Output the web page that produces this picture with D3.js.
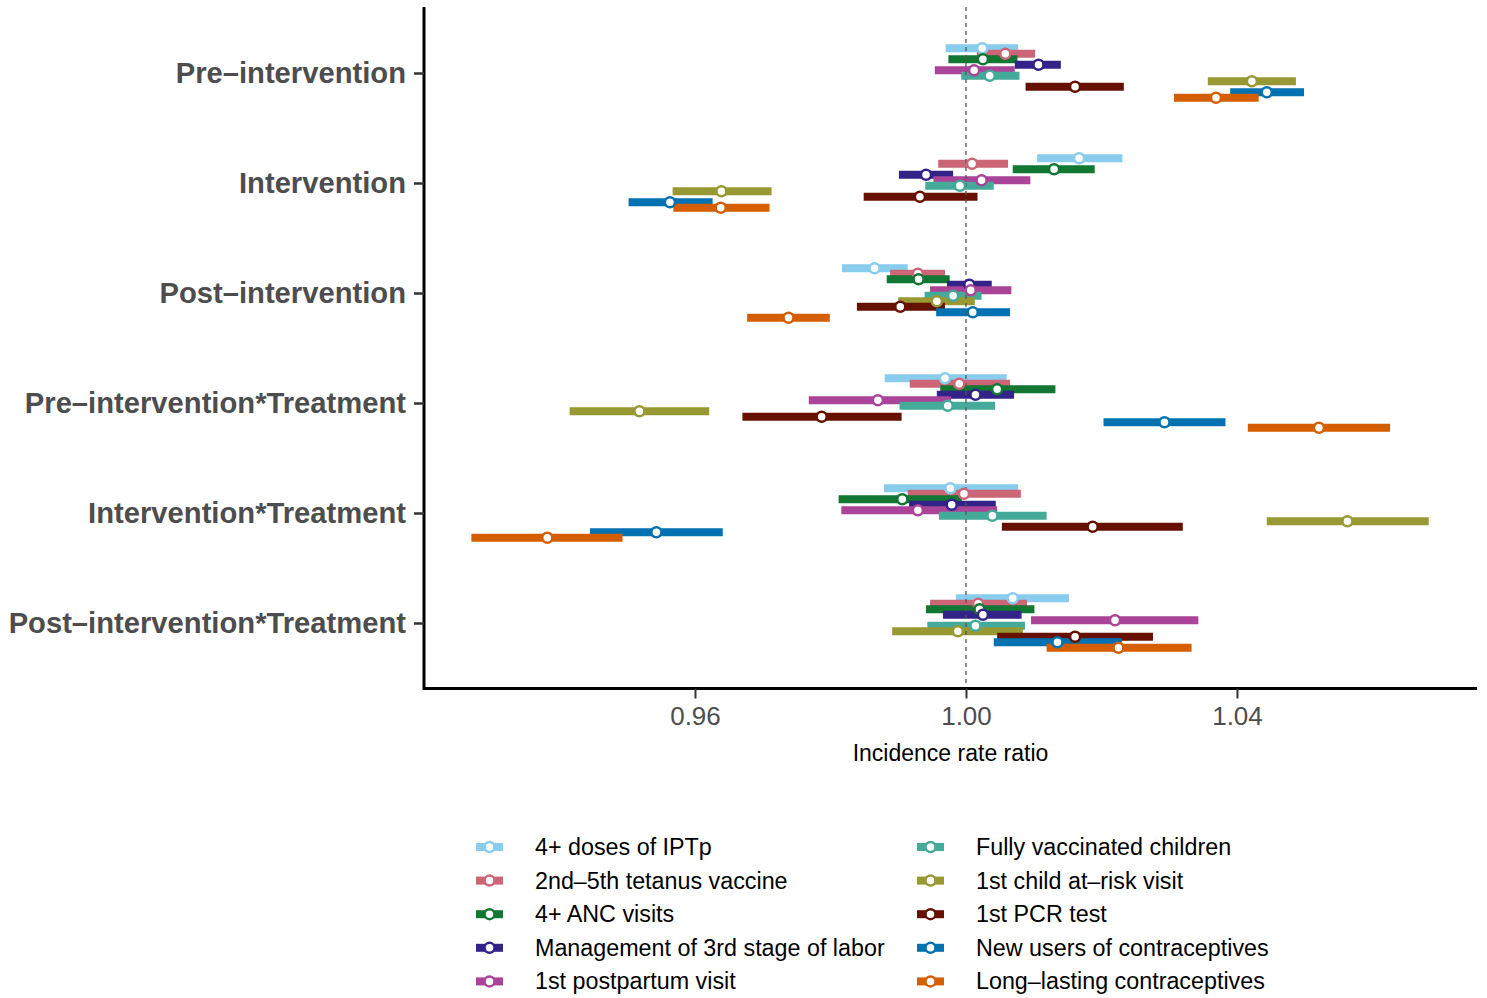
<!DOCTYPE html>
<html>
<head>
<meta charset="utf-8">
<script src="https://cdn.jsdelivr.net/npm/d3@7"></script>
<style>
  body { margin: 0; background: #fff; }
  svg text { font-family: "Liberation Sans", Arial, Helvetica, sans-serif; }
</style>
</head>
<body>
<svg id="chart" width="1487" height="998"></svg>
<script>
// periods on the y axis, top to bottom
var groups = ['Pre–intervention', 'Intervention', 'Post–intervention',
  'Pre–intervention*Treatment', 'Intervention*Treatment', 'Post–intervention*Treatment'];

var series = ['4+ doses of IPTp', '2nd–5th tetanus vaccine', '4+ ANC visits',
  'Management of 3rd stage of labor', '1st postpartum visit', 'Fully vaccinated children',
  '1st child at–risk visit', '1st PCR test', 'New users of contraceptives', 'Long–lasting contraceptives'];

var colors = ['#88CCEE', '#CC6677', '#117733', '#332288', '#AA4499',
  '#44AA99', '#999933', '#661100', '#0072B2', '#D55E00'];

// one row per series, one column per period
var ratio = [
  [1.0024, 1.0167, 0.9865, 0.9969, 0.9977, 1.0069],
  [1.0058, 1.0009, 0.9929, 0.9990, 0.9997, 1.0018],
  [1.0025, 1.0130, 0.9930, 1.0046, 0.9906, 1.0020],
  [1.0107, 0.9941, 1.0005, 1.0014, 0.9979, 1.0025],
  [1.0012, 1.0023, 1.0007, 0.9870, 0.9929, 1.0220],
  [1.0035, 0.9991, 0.9981, 0.9973, 1.0039, 1.0014],
  [1.0422, 0.9639, 0.9957, 0.9518, 1.0563, 0.9988],
  [1.0161, 0.9932, 0.9903, 0.9787, 1.0187, 1.0161],
  [1.0444, 0.9563, 1.0010, 1.0293, 0.9543, 1.0135],
  [1.0369, 0.9638, 0.9738, 1.0521, 0.9382, 1.0225]
];
var lower = [
  [0.9970, 1.0105, 0.9817, 0.9880, 0.9879, 0.9985],
  [1.0016, 0.9959, 0.9888, 0.9917, 0.9914, 0.9947],
  [0.9974, 1.0069, 0.9883, 0.9962, 0.9812, 0.9941],
  [1.0072, 0.9901, 0.9972, 0.9957, 0.9916, 0.9966],
  [0.9954, 0.9952, 0.9947, 0.9768, 0.9816, 1.0096],
  [0.9993, 0.9940, 0.9939, 0.9902, 0.9960, 0.9943],
  [1.0357, 0.9567, 0.9900, 0.9415, 1.0444, 0.9891],
  [1.0088, 0.9849, 0.9839, 0.9670, 1.0053, 1.0046],
  [1.0390, 0.9502, 0.9956, 1.0203, 0.9445, 1.0041],
  [1.0307, 0.9568, 0.9677, 1.0416, 0.9270, 1.0119]
];
var upper = [
  [1.0077, 1.0231, 0.9914, 1.0060, 1.0077, 1.0152],
  [1.0102, 1.0062, 0.9969, 1.0065, 1.0081, 1.0090],
  [1.0076, 1.0190, 0.9976, 1.0132, 0.9994, 1.0101],
  [1.0140, 0.9981, 1.0038, 1.0071, 1.0044, 1.0082],
  [1.0072, 1.0095, 1.0067, 0.9978, 1.0046, 1.0343],
  [1.0079, 1.0041, 1.0023, 1.0043, 1.0119, 1.0087],
  [1.0487, 0.9713, 1.0013, 0.9621, 1.0683, 1.0084],
  [1.0233, 1.0017, 0.9969, 0.9905, 1.0320, 1.0276],
  [1.0499, 0.9626, 1.0065, 1.0383, 0.9641, 1.0230],
  [1.0432, 0.9710, 0.9799, 1.0626, 0.9493, 1.0333]
];

var xTicks = [0.96, 1.00, 1.04];

var margin = { top: 7, right: 11, bottom: 309, left: 425 };
var width = 1487, height = 998;
var svg = d3.select('#chart');

var x = d3.scaleLinear()
  .domain([0.92015, 1.07528])
  .range([margin.left, width - margin.right]);

var y = d3.scalePoint()
  .domain(groups)
  .range([margin.top, height - margin.bottom])
  .padding(0.6);

var dodge = y.step() * 0.5 / series.length;
var barH = 8;
var ptR = 5, ptW = 2.5;

var rows = [];
series.forEach(function (s, i) {
  groups.forEach(function (g, j) {
    rows.push({ s: i, g: g, est: ratio[i][j], lo: lower[i][j], hi: upper[i][j] });
  });
});
function yPos(d) { return y(d.g) + (d.s - (series.length - 1) / 2) * dodge; }

// interval bars
svg.append('g').selectAll('rect')
  .data(rows)
  .enter()
  .append('rect')
  .attr('x', function (d) { return x(d.lo); })
  .attr('y', function (d) { return yPos(d) - barH / 2; })
  .attr('width', function (d) { return x(d.hi) - x(d.lo); })
  .attr('height', barH)
  .attr('fill', function (d) { return colors[d.s]; });

// reference line
svg.append('line')
  .attr('x1', x(1)).attr('x2', x(1))
  .attr('y1', margin.top).attr('y2', height - margin.bottom)
  .attr('stroke', '#555')
  .attr('stroke-width', 1.3)
  .attr('stroke-dasharray', '4,4');

// point estimates
svg.append('g').selectAll('circle')
  .data(rows)
  .enter()
  .append('circle')
  .attr('cx', function (d) { return x(d.est); })
  .attr('cy', yPos)
  .attr('r', ptR)
  .attr('fill', '#fff')
  .attr('stroke', function (d) { return colors[d.s]; })
  .attr('stroke-width', ptW);

// axes
var xAxis = svg.append('g')
  .attr('transform', 'translate(0,' + (height - margin.bottom - 0.5) + ')')
  .call(d3.axisBottom(x).tickValues(xTicks).tickFormat(d3.format('.2f')).tickSize(10).tickPadding(8));
xAxis.select('.domain').attr('stroke', '#000').attr('stroke-width', 3)
  .attr('d', 'M' + (margin.left - 2) + ',0H' + (width - margin.right + 1));
xAxis.selectAll('.tick line').attr('stroke', '#333').attr('stroke-width', 2);
xAxis.selectAll('.tick text').attr('fill', '#4D4D4D').style('font-size', '26px');

var yAxis = svg.append('g')
  .attr('transform', 'translate(' + (margin.left - 1) + ',0)')
  .call(d3.axisLeft(y).tickSize(10).tickPadding(8));
yAxis.select('.domain').attr('stroke', '#000').attr('stroke-width', 3)
  .attr('d', 'M0,' + margin.top + 'V' + (height - margin.bottom + 1));
yAxis.selectAll('.tick line').attr('stroke', '#333').attr('stroke-width', 2.5);
yAxis.selectAll('.tick text').attr('fill', '#4D4D4D')
  .style('font-size', '29.2px').style('font-weight', 'bold');

svg.append('text')
  .attr('x', (margin.left + width - margin.right) / 2)
  .attr('y', 761)
  .attr('text-anchor', 'middle')
  .attr('fill', '#000')
  .style('font-size', '23px')
  .text('Incidence rate ratio');

// legend, two columns of five
var legend = svg.append('g').selectAll('g')
  .data(series)
  .enter()
  .append('g')
  .attr('transform', function (d, i) {
    var col = Math.floor(i / 5), row = i % 5;
    return 'translate(' + (476 + col * 441) + ',' + (847 + row * 33.6) + ')';
  });
legend.append('rect')
  .attr('x', 0).attr('y', -barH / 2)
  .attr('width', 27).attr('height', barH)
  .attr('fill', function (d, i) { return colors[i]; });
legend.append('circle')
  .attr('cx', 13.5).attr('cy', 0).attr('r', ptR)
  .attr('fill', '#fff')
  .attr('stroke', function (d, i) { return colors[i]; })
  .attr('stroke-width', ptW);
legend.append('text')
  .attr('x', 59).attr('y', 8)
  .attr('fill', '#000')
  .style('font-size', '23.3px')
  .text(function (d) { return d; });
</script>
</body>
</html>
